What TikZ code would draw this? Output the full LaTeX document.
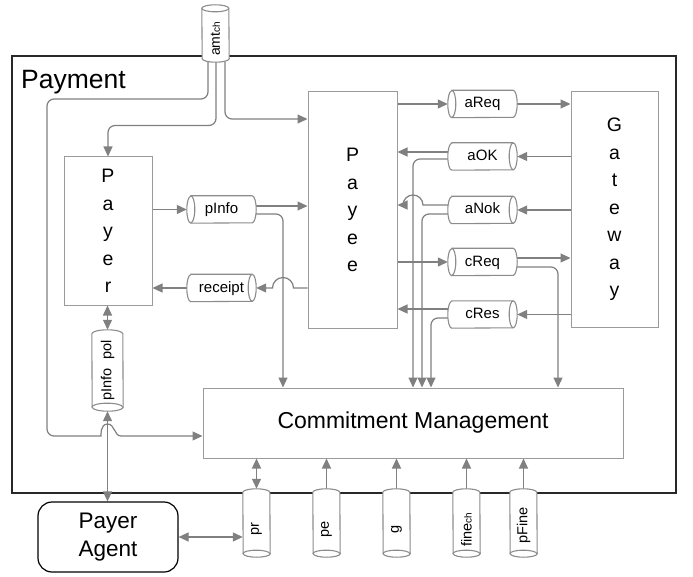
\documentclass[tikz,border=0pt]{standalone}
\usepackage{fontspec}
\setmainfont{Liberation Sans}
\usepackage{graphicx}
\usetikzlibrary{arrows.meta}

\definecolor{wire}{RGB}{128,128,128}
\definecolor{boxedge}{RGB}{155,155,155}
\definecolor{shell}{RGB}{140,140,140}
\definecolor{framecol}{RGB}{40,40,40}

\pgfdeclarelayer{back}
\pgfdeclarelayer{wires}
\pgfdeclarelayer{shells}
\pgfsetlayers{back,wires,shells,main}

\newcommand\fsz[2]{\fontsize{#1}{#2}\selectfont}

% horizontal store, open end on the west side
\newcommand\shellW[1]{%
  \draw[shelltrace] ([xshift=4pt]#1.north west) -- ([xshift=-4pt]#1.north east)
    arc[start angle=90,end angle=-90,x radius=4pt,y radius=13.5pt]
    -- ([xshift=4pt]#1.south west)
    arc[start angle=270,end angle=90,x radius=4pt,y radius=13.5pt] -- cycle;
  \draw[shelltrace,fill=none] ([xshift=4pt]#1.north west)
    arc[start angle=90,end angle=-90,x radius=4pt,y radius=13.5pt];}
% horizontal store, open end on the east side
\newcommand\shellE[1]{%
  \draw[shelltrace] ([xshift=4pt]#1.north west) -- ([xshift=-4pt]#1.north east)
    arc[start angle=90,end angle=-90,x radius=4pt,y radius=13.5pt]
    -- ([xshift=4pt]#1.south west)
    arc[start angle=270,end angle=90,x radius=4pt,y radius=13.5pt] -- cycle;
  \draw[shelltrace,fill=none] ([xshift=-4pt]#1.north east)
    arc[start angle=90,end angle=270,x radius=4pt,y radius=13.5pt];}
% vertical store, open end at the bottom (#2 half width, #3 cap radius)
\newcommand\shellS[3]{%
  \draw[shelltrace] ([yshift=-#3]#1.north west)
    arc[start angle=180,end angle=0,x radius=#2,y radius=#3]
    -- ([yshift=#3]#1.south east)
    arc[start angle=0,end angle=-180,x radius=#2,y radius=#3] -- cycle;
  \draw[shelltrace,fill=none] ([yshift=#3]#1.south west)
    arc[start angle=180,end angle=0,x radius=#2,y radius=#3];}
% vertical store, open end at the top
\newcommand\shellN[3]{%
  \draw[shelltrace] ([yshift=-#3]#1.north west)
    arc[start angle=180,end angle=0,x radius=#2,y radius=#3]
    -- ([yshift=#3]#1.south east)
    arc[start angle=0,end angle=-180,x radius=#2,y radius=#3] -- cycle;
  \draw[shelltrace,fill=none] ([yshift=-#3]#1.north west)
    arc[start angle=180,end angle=360,x radius=#2,y radius=#3];}

\tikzset{
  >={Triangle[length=10pt,width=9pt]},
  wirepath/.style={draw=wire, line width=1.2pt, ->, rounded corners=7pt},
  twoway/.style={wirepath, <->},
  block/.style={draw=boxedge, line width=1pt, inner sep=0pt, align=center},
  letters/.style={block, font=\fsz{19.5}{27.5}},
  shelltrace/.style={draw=shell, fill=white, line width=1.1pt},
  hstore/.style={inner sep=0pt, minimum width=69pt, minimum height=27pt,
    font=\fsz{15}{18}, text height=11pt, text depth=3pt},
  vstore/.style={inner sep=0pt, minimum width=27pt, minimum height=68pt,
    font=\fsz{14.5}{17}},
}

\begin{document}
\begin{tikzpicture}[x=1pt,y=-1pt]
\useasboundingbox (0,0) rectangle (693,577);

\begin{pgfonlayer}{back}
  \fill[white] (0,0) rectangle (693,577);
  \node[draw=framecol, line width=1.2pt, minimum width=664pt, minimum height=437pt,
        inner sep=0pt] (payment) at (344,274.5) {};
\end{pgfonlayer}
\node[font=\fsz{26.5}{30}, anchor=base west, inner sep=0pt] (paymentlabel) at (21,89) {Payment};

% processes
\node[letters, minimum width=88pt, minimum height=148pt] (payer) at (108,231) {P\\a\\y\\e\\r};
\node[letters, minimum width=89pt, minimum height=236pt] (payee) at (352.5,210) {P\\a\\y\\e\\e};
\node[letters, minimum width=87pt, minimum height=235pt] (gateway) at (614.5,209.5) {G\\a\\t\\e\\w\\a\\y};
\node[block, minimum width=420pt, minimum height=70pt, font=\fsz{23}{27}] (cm) at (413,423) {Commitment Management};
\node[draw=black, fill=white, line width=1.2pt, rounded corners=14pt, minimum width=140pt,
      minimum height=70pt, align=center, inner sep=0pt, font=\fsz{22.5}{27.5}] (agent) at (108,537) {Payer\\Agent};

% channels
\node[hstore] (pinfo) at (221.5,209.5) {pInfo};
\node[hstore] (receipt) at (221.5,288) {receipt};
\node[hstore] (areq) at (482.5,104) {aReq};
\node[hstore] (aok) at (482.5,156.5) {aOK};
\node[hstore] (anok) at (482.5,210) {aNok};
\node[hstore] (creq) at (482.5,262) {cReq};
\node[hstore] (cres) at (482.5,314.5) {cRes};
\node[vstore, minimum height=57pt, font=\fsz{14}{17}] (amt) at (215.5,33.5) {\rotatebox{90}{amt{\fsz{10}{12}ch}\kern11pt}};
\node[vstore, minimum width=31pt, minimum height=81pt] (pinfopol) at (107.5,370.5) {\rotatebox{90}{pInfo\kern9pt pol}};
\node[vstore] (pr) at (256.5,523) {\rotatebox{90}{pr\kern13pt}};
\node[vstore] (pe) at (326.5,523) {\rotatebox{90}{pe\kern13pt}};
\node[vstore] (g) at (396.5,523) {\rotatebox{90}{g\kern13pt}};
\node[vstore] (finech) at (466.5,523) {\rotatebox{90}{fine{\fsz{10}{12}ch}\kern13pt}};
\node[vstore] (pfine) at (523.5,523) {\rotatebox{90}{pFine\kern5pt}};

\begin{pgfonlayer}{shells}
  \shellW{pinfo}\shellE{receipt}
  \shellW{areq}\shellE{aok}\shellE{anok}\shellW{creq}\shellE{cres}
  \shellN{amt}{13.5pt}{3.5pt}
  \shellS{pinfopol}{15.5pt}{4pt}
  \shellS{pr}{13.5pt}{3.5pt}\shellS{pe}{13.5pt}{3.5pt}\shellS{g}{13.5pt}{3.5pt}
  \shellS{finech}{13.5pt}{3.5pt}\shellS{pfine}{13.5pt}{3.5pt}
\end{pgfonlayer}

\coordinate (pinfoA) at ([yshift=3.5pt]pinfo.east);
\coordinate (pinfoB) at ([yshift=-4.5pt]pinfo.east);
\coordinate (aokA) at ([yshift=4.5pt]aok.west);
\coordinate (aokB) at ([yshift=-2.5pt]aok.west);
\coordinate (anokA) at ([yshift=5pt]anok.west);
\coordinate (anokB) at ([yshift=-4pt]anok.west);
\coordinate (creqA) at ([yshift=4pt]creq.east);
\coordinate (creqB) at ([yshift=-5pt]creq.east);
\coordinate (cresA) at ([yshift=5.5pt]cres.west);
\coordinate (cresB) at ([yshift=-3.5pt]cres.west);
\coordinate (cmIn) at ([yshift=-13pt]cm.west);

\begin{pgfonlayer}{wires}
  % amount feed
  \draw[wirepath] ([xshift=-7.5pt]amt.south) |- (47,99) |- (60,436) -- (94,436) [sharp corners]
    .. controls (101,436) and (100,424) .. (107.5,424)
    .. controls (115,424) and (114,436) .. (121,436) -- (cmIn);
  \draw[wirepath] ([xshift=0.5pt]amt.south) |- ([yshift=31pt]payer.north) -- (payer.north);
  \draw[wirepath] ([xshift=9.5pt]amt.south) |- ([yshift=91pt]payee.west);
  % payer side
  \draw[wirepath] (pinfo.west -| payer.east) -- (pinfo.west);
  \draw[wirepath] (pinfoA) -- (pinfoA -| payee.west);
  \draw[wirepath] (pinfoB) -| ([xshift=-130pt]cm.north);
  \draw[wirepath, sharp corners] (receipt.east -| payee.west) -- (293.5,288)
    arc[start angle=0,end angle=180,radius=10.5pt] -- (receipt.east);
  \draw[wirepath] (receipt.west) -- (receipt.west -| payer.east);
  % gateway side
  \draw[wirepath] (areq.west -| payee.east) -- (areq.west);
  \draw[wirepath] (areq.east) -- (areq.east -| gateway.west);
  \draw[wirepath] (aok.east -| gateway.west) -- (aok.east);
  \draw[wirepath] (aokA) -- (aokA -| payee.east);
  \draw[wirepath] (aokB) -| (cm.north);
  \draw[wirepath] (anok.east -| gateway.west) -- (anok.east);
  \draw[wirepath, sharp corners] (anokA) -- (423,205)
    arc[start angle=0,end angle=180,radius=10pt] -- (anokA -| payee.east);
  \draw[wirepath] (anokB) -| ([xshift=9pt]cm.north);
  \draw[wirepath] (creq.west -| payee.east) -- (creq.west);
  \draw[wirepath] (creqA) -- (creqA -| gateway.west);
  \draw[wirepath] (creqB) -| ([xshift=145pt]cm.north);
  \draw[wirepath] (cres.east -| gateway.west) -- (cres.east);
  \draw[wirepath] (cresA) -- (cresA -| payee.east);
  \draw[wirepath] (cresB) -| ([xshift=18pt]cm.north);
  % policy and agent
  \draw[twoway] (payer.south -| pinfopol.north) -- (pinfopol.north);
  \draw[twoway] (pinfopol.south) -- (pinfopol.south |- agent.north);
  \draw[twoway] (agent.east) -- (agent.east -| pr.west);
  % stores below commitment management
  \draw[twoway] (pr.north) -- (pr.north |- cm.south);
  \draw[wirepath] (pe.north) -- (pe.north |- cm.south);
  \draw[wirepath] (g.north) -- (g.north |- cm.south);
  \draw[wirepath] (finech.north) -- (finech.north |- cm.south);
  \draw[wirepath] (pfine.north) -- (pfine.north |- cm.south);
\end{pgfonlayer}
\end{tikzpicture}
\end{document}
